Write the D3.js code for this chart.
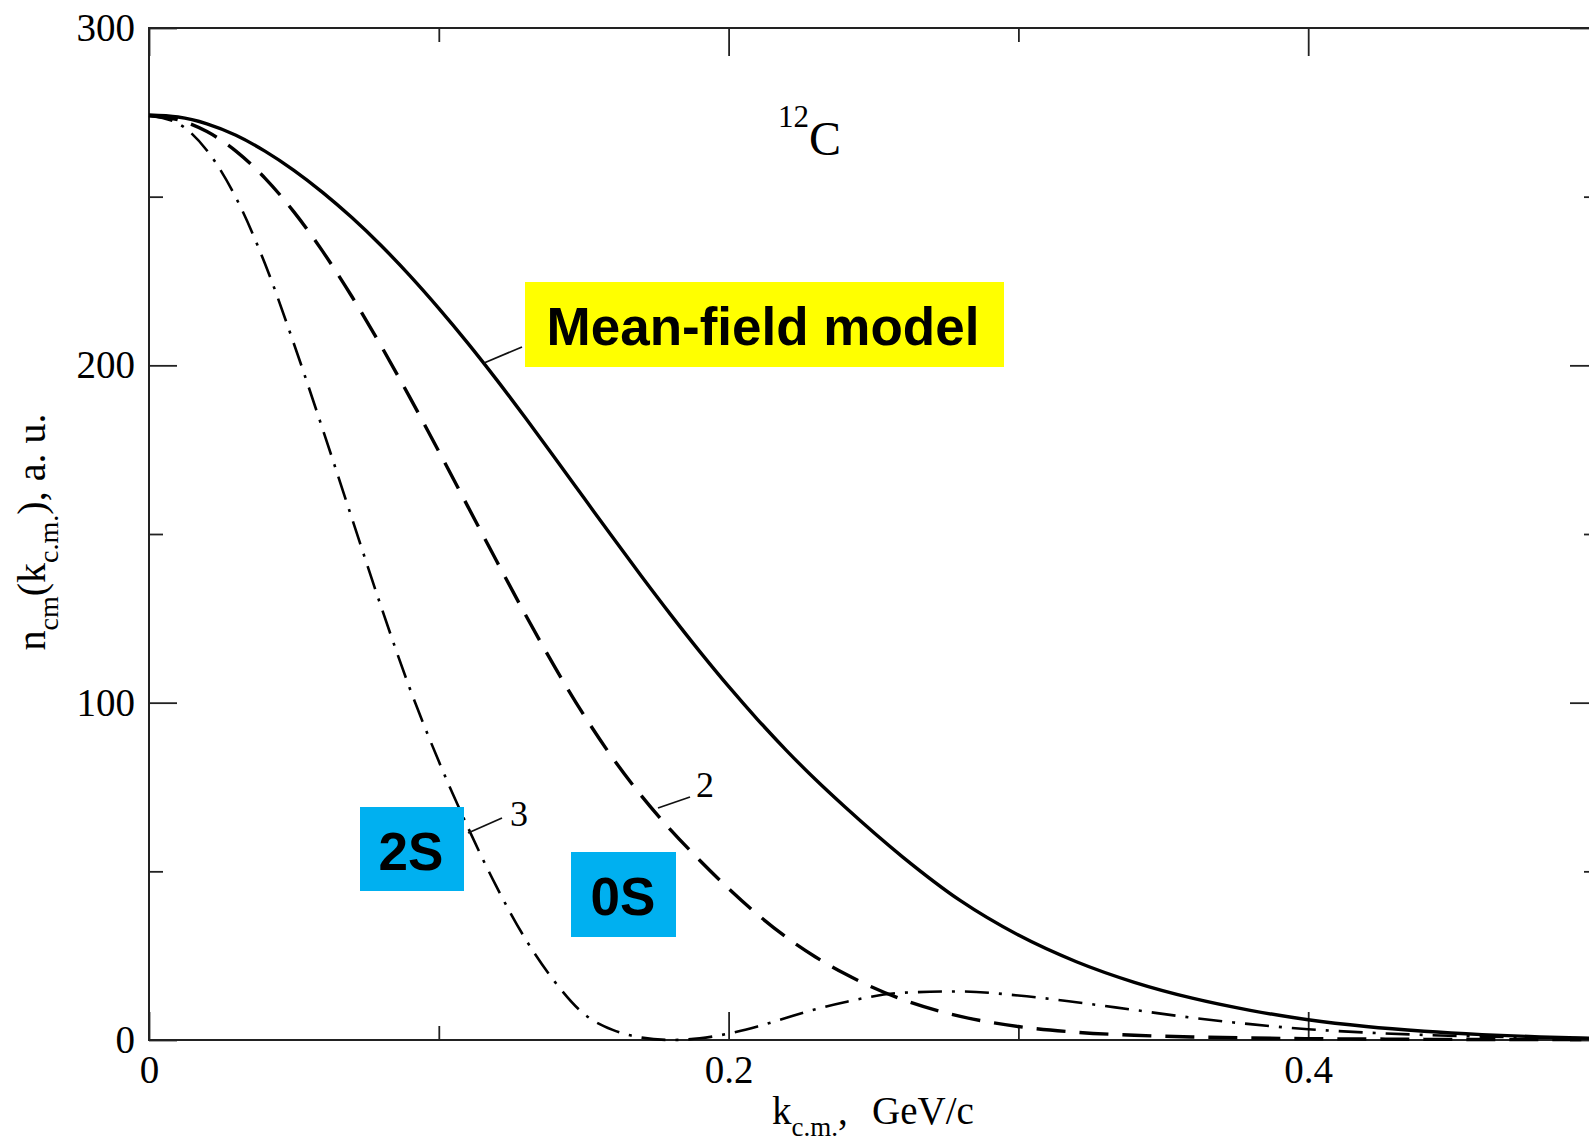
<!DOCTYPE html>
<html><head><meta charset="utf-8">
<script src="https://cdn.jsdelivr.net/npm/d3@7"></script>
<style>body{margin:0;background:#fff;overflow:hidden}</style>
</head><body>
<svg id="c" width="1589" height="1141" xmlns="http://www.w3.org/2000/svg"></svg>
<script>
// k_c.m. (GeV/c)
const kValues = [0,0.01,0.02,0.03,0.04,0.05,0.06,0.07,0.08,0.09,0.10,0.11,0.12,0.13,0.14,0.15,0.16,0.17,0.18,0.19,0.20,0.21,0.22,0.23,0.24,0.26,0.28,0.30,0.32,0.34,0.36,0.38,0.40,0.42,0.44,0.46,0.48,0.50];
// solid line (mean-field)
const meanField = [274.2,273.6,271.6,268.2,263.5,257.8,251.2,243.8,235.6,226.6,216.9,206.6,195.7,184.3,172.6,160.8,149.0,137.4,126.1,115.2,104.8,95.0,85.8,77.2,69.2,54.3,41.3,31.1,23.2,17.1,12.4,8.8,6.0,4.0,2.6,1.6,0.9,0.5];
// dashed line, label "2"
const curve2 = [274,272.8,269.3,263.5,255.5,245.5,233.7,220.4,205.9,190.5,174.5,158.2,141.9,125.9,110.6,96.4,83.6,72.3,62.3,53.3,44.9,37.2,30.4,24.6,19.7,12.0,7.0,4.0,2.3,1.4,0.9,0.6,0.4,0.3,0.2,0.15,0.1,0.1];
// dash-dot line, label "3"
const curve3 = [274,271.7,263.7,249.7,230.2,206.4,180.9,154.7,128.7,104.2,82.6,63.1,45.3,29.8,17.3,7.8,3.0,0.7,0,0.5,1.9,4.0,6.6,9.1,11.2,14.0,14.4,13.2,11.2,8.9,6.6,4.7,3.2,2.2,1.5,1.0,0.7,0.5];

const xMajor = [0, 0.2, 0.4];
const xMinor = [0.1, 0.3, 0.5];
const yMajor = [0, 100, 200, 300];
const yMinor = [50, 150, 250];

const svg = d3.select('#c');
const serif = "'Liberation Serif','Times New Roman',serif";
const sans = "'Liberation Sans',Arial,sans-serif";

const x = d3.scaleLinear().domain([0, 0.5]).range([149, 1598]);
const y = d3.scaleLinear().domain([0, 300]).range([1040, 28]);

function styleAxis(g){
  g.select('.domain').remove();
  g.selectAll('.tick line').attr('stroke','#222').attr('stroke-width',1.8);
  g.selectAll('.tick text').attr('font-family',serif).attr('font-size',39).attr('fill','#000');
}
const fmtX = d => d === 0 ? '0' : d3.format('.1f')(d);

// bottom
svg.append('g').attr('transform','translate(0,1040)')
  .call(d3.axisBottom(x).tickValues(xMajor).tickSize(-28).tickPadding(15).tickFormat(fmtX)).call(styleAxis);
svg.append('g').attr('transform','translate(0,1040)')
  .call(d3.axisBottom(x).tickValues(xMinor).tickSize(-14).tickFormat('')).call(styleAxis);
// top
svg.append('g').attr('transform','translate(0,28)')
  .call(d3.axisTop(x).tickValues(xMajor).tickSize(-28).tickFormat('')).call(styleAxis);
svg.append('g').attr('transform','translate(0,28)')
  .call(d3.axisTop(x).tickValues(xMinor).tickSize(-14).tickFormat('')).call(styleAxis);
// left
svg.append('g').attr('transform','translate(149,0)')
  .call(d3.axisLeft(y).tickValues(yMajor).tickSize(-28).tickPadding(14).tickFormat(d3.format('d'))).call(styleAxis);
svg.append('g').attr('transform','translate(149,0)')
  .call(d3.axisLeft(y).tickValues(yMinor).tickSize(-14).tickFormat('')).call(styleAxis);
// right
svg.append('g').attr('transform','translate(1598,0)')
  .call(d3.axisRight(y).tickValues(yMajor).tickSize(-28).tickFormat('')).call(styleAxis);
svg.append('g').attr('transform','translate(1598,0)')
  .call(d3.axisRight(y).tickValues(yMinor).tickSize(-14).tickFormat('')).call(styleAxis);

// frame
svg.append('rect').attr('x',x(0)).attr('y',y(300)).attr('width',x(0.5)-x(0)).attr('height',y(0)-y(300))
  .attr('fill','none').attr('stroke','#222').attr('stroke-width',2);

// curves
const line = vals => d3.line().x((d,i)=>x(kValues[i])).y(d=>y(d)).curve(d3.curveMonotoneX)(vals);
svg.append('path').attr('d', line(curve3)).attr('fill','none').attr('stroke','#000')
  .attr('stroke-width',2.6).attr('stroke-dasharray','24,10,3,10');
svg.append('path').attr('d', line(curve2)).attr('fill','none').attr('stroke','#000')
  .attr('stroke-width',3.4).attr('stroke-dasharray','29,14');
svg.append('path').attr('d', line(meanField)).attr('fill','none').attr('stroke','#000')
  .attr('stroke-width',3.4);

// leader lines and curve numbers
const leader = (x1,y1,x2,y2)=>svg.append('line').attr('x1',x1).attr('y1',y1).attr('x2',x2).attr('y2',y2)
  .attr('stroke','#111').attr('stroke-width',1.8);
leader(484,363,522,347);
leader(658,808,690,797);
leader(468,833,502,818);
svg.append('text').attr('x',696).attr('y',797).attr('font-family',serif).attr('font-size',36).text('2');
svg.append('text').attr('x',510).attr('y',826).attr('font-family',serif).attr('font-size',36).text('3');

// annotation boxes
function box(x0,y0,w,h,fill,label,cx,by){
  svg.append('rect').attr('x',x0).attr('y',y0).attr('width',w).attr('height',h).attr('fill',fill);
  svg.append('text').attr('x',cx).attr('y',by).attr('text-anchor','middle')
    .attr('font-family',sans).attr('font-weight','bold').attr('font-size',53).attr('fill','#000').text(label);
}
box(525,282,479,85,'#ffff00','Mean-field model',763,345);
box(360,807,104,84,'#00b0f0','2S',411,870);
box(571,852,105,85,'#00b0f0','0S',623,915);

// 12C label
const nuc = svg.append('text').attr('font-family',serif).attr('fill','#000');
nuc.append('tspan').attr('x',778).attr('y',127).attr('font-size',31).text('12');
nuc.append('tspan').attr('x',809).attr('y',155).attr('font-size',48).text('C');

// x-axis title
const xt = svg.append('text').attr('font-family',serif).attr('font-size',39).attr('fill','#000');
xt.append('tspan').attr('x',772).attr('y',1124).text('k');
xt.append('tspan').attr('font-size',27).attr('dy',12).text('c.m.');
xt.append('tspan').attr('dy',-12).text(',');
xt.append('tspan').attr('x',872).attr('y',1124).text('GeV/c');

// y-axis title
const yt = svg.append('text').attr('font-family',serif).attr('font-size',40).attr('fill','#000')
  .attr('text-anchor','middle').attr('transform','translate(45,532) rotate(-90)');
yt.append('tspan').text('n');
yt.append('tspan').attr('font-size',28).attr('dy',13).text('cm');
yt.append('tspan').attr('dy',-13).text('(k');
yt.append('tspan').attr('font-size',28).attr('dy',13).text('c.m.');
yt.append('tspan').attr('dy',-13).text('), a. u.');
</script>
</body></html>
